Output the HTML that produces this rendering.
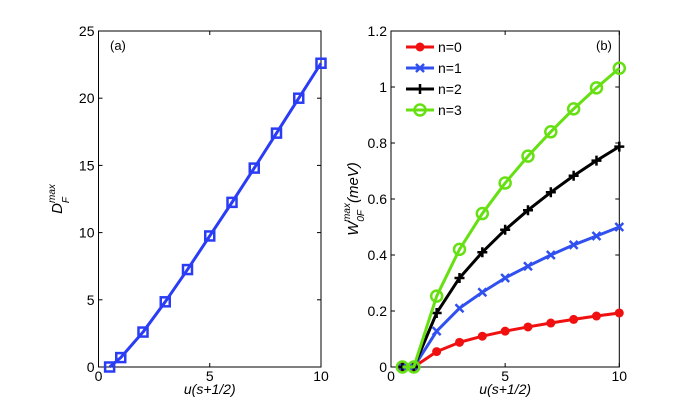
<!DOCTYPE html>
<html><head><meta charset="utf-8"><style>
body{margin:0;background:#fff;}
svg{display:block;font-family:"Liberation Sans",Arial,sans-serif;}
</style></head><body>
<svg id="c" width="692" height="413" viewBox="0 0 692 413"></svg>
<script>
const xsA=[0.5,1,2,3,4,5,6,7,8,9,10];
const dfMax=[0,0.7,2.6,4.85,7.25,9.75,12.25,14.8,17.4,20,22.6];
const xsB=[0.5,1,2,3,4,5,6,7,8,9,10];
const n0=[0,0,0.055,0.088,0.11,0.128,0.143,0.157,0.17,0.182,0.193];
const n1=[0,0,0.128,0.21,0.267,0.318,0.36,0.4,0.436,0.468,0.5];
const n2=[0,0,0.193,0.318,0.41,0.49,0.56,0.624,0.683,0.737,0.787];
const n3=[0,0,0.253,0.42,0.548,0.657,0.753,0.84,0.922,0.997,1.067];
const xTicks=[0,5,10];
const yTicksA=[0,5,10,15,20,25];
const yTicksB=[0,0.2,0.4,0.6,0.8,1,1.2];
const legendLabels=["n=0","n=1","n=2","n=3"];

const svg=document.getElementById('c');
const NS='http://www.w3.org/2000/svg';
function mk(t,a,p){const e=document.createElementNS(NS,t);for(const k in a)e.setAttribute(k,a[k]);(p||svg).appendChild(e);return e;}

function panel(name,L,R,T,B,xmax,ymax,yTicks){
  const g=mk('g',{});
  
  
  const sx=v=>L+(R-L)*v/xmax, sy=v=>B-(B-T)*v/ymax;
  const box=mk('rect',{x:L,y:T,width:R-L,height:B-T,fill:'none',stroke:'#000','stroke-width':1},g);
  
  
  xTicks.forEach(t=>{
    const x=sx(t);
    mk('line',{x1:x,x2:x,y1:B,y2:B-4,stroke:'#000'},g);
    mk('line',{x1:x,x2:x,y1:T,y2:T+4,stroke:'#000'},g);
    const tx=mk('text',{x:x,y:B+14,'text-anchor':'middle','font-size':14},g);
    tx.textContent=t;
    
    
  });
  yTicks.forEach(t=>{
    const y=sy(t);
    mk('line',{x1:L,x2:L+4,y1:y,y2:y,stroke:'#000'},g);
    mk('line',{x1:R,x2:R-4,y1:y,y2:y,stroke:'#000'},g);
    const tx=mk('text',{x:L-4,y:y+5,'text-anchor':'end','font-size':14},g);
    tx.textContent=t;
    
    
  });
  const xl=mk('text',{x:(L+R)/2,y:B+27,'text-anchor':'middle','font-size':14,'font-style':'italic'},g);
  xl.textContent='u(s+1/2)';
  
  
  return {g,sx,sy};
}

function marker(type,x,y,col,g){
  let e;
  if(type==='sq') e=mk('rect',{x:x-4.5,y:y-4.5,width:9,height:9,fill:'none',stroke:col,'stroke-width':2.5},g);
  else if(type==='dot') e=mk('circle',{cx:x,cy:y,r:4.5,fill:col},g);
  else if(type==='o') e=mk('circle',{cx:x,cy:y,r:5.5,fill:'none',stroke:col,'stroke-width':2.5},g);
  else if(type==='x') e=mk('path',{d:`M${x-4} ${y-4}L${x+4} ${y+4}M${x-4} ${y+4}L${x+4} ${y-4}`,stroke:col,'stroke-width':2.5},g);
  else e=mk('path',{d:`M${x-5} ${y}L${x+5} ${y}M${x} ${y-5}L${x} ${y+5}`,stroke:col,'stroke-width':2.5},g);
  
  
}

function series(p,xs,ys,col,type,name){
  const sg=mk('g',{},p.g);
  
  
  const d=xs.map((x,i)=>(i?'L':'M')+p.sx(x)+' '+p.sy(ys[i])).join('');
  mk('path',{d,fill:'none',stroke:col,'stroke-width':3,'stroke-linejoin':'round'},sg);
  xs.forEach((x,i)=>marker(type,p.sx(x),p.sy(ys[i]),col,sg));
}

// panel a
const pa=panel('panel-a',98.5,321,31,367,10,25,yTicksA);
series(pa,xsA,dfMax,'#2a3cf5','sq','series-df-max');
let t=mk('text',{x:110,y:50,'font-size':13},pa.g);t.textContent='(a)';

t=mk('text',{transform:'translate(62,199) rotate(-90)','text-anchor':'middle','font-size':15,'font-style':'italic'},pa.g);
t.innerHTML='D<tspan font-size="10" dy="7">F</tspan><tspan font-size="10" dx="-6" dy="-14">max</tspan>';


// panel b
const pb=panel('panel-b',391,619.3,31,367,10,1.2,yTicksB);
const cols=['#f01010','#3050f0','#000','#66e012'];
const types=['dot','x','plus','o'];
[n0,n1,n2,n3].forEach((s,i)=>series(pb,xsB,s,cols[i],types[i],'series-'+legendLabels[i].replace('=','')));
t=mk('text',{x:596,y:50,'font-size':13},pb.g);t.textContent='(b)';

t=mk('text',{transform:'translate(358,199) rotate(-90)','text-anchor':'middle','font-size':15,'font-style':'italic'},pb.g);
t.innerHTML='W<tspan font-size="10" dy="6">0F</tspan><tspan font-size="10" dx="-12" dy="-14">max</tspan><tspan dy="8">(meV)</tspan>';

const lg=mk('g',{},pb.g);


legendLabels.forEach((lab,i)=>{
  const y=47+i*21;
  const eg=mk('g',{},lg);
  
  
  mk('line',{x1:406,x2:434,y1:y,y2:y,stroke:cols[i],'stroke-width':3},eg);
  marker(types[i],420,y,cols[i],eg);
  const tx=mk('text',{x:438,y:y+5,'font-size':14},eg);tx.textContent=lab;
});
</script>
</body></html>
